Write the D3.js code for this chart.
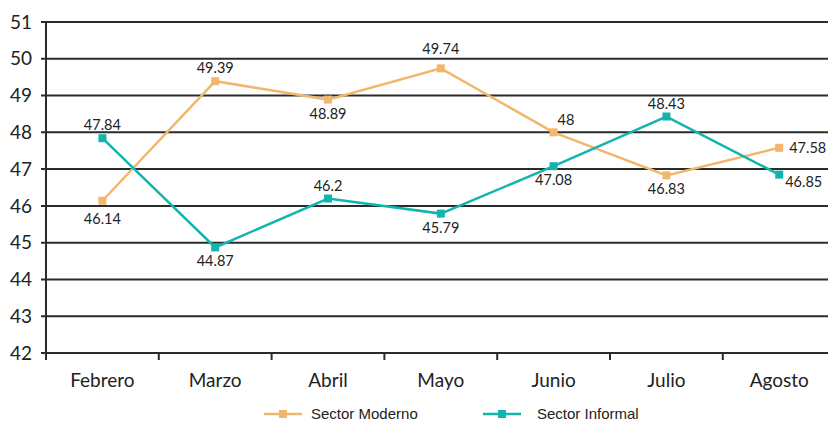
<!DOCTYPE html>
<html>
<head>
<meta charset="utf-8">
<script src="https://cdn.jsdelivr.net/npm/d3@7"></script>
<style>
  body { margin: 0; background: #fff; }
  svg { display: block; }
</style>
</head>
<body>
<div id="chart"></div>
<script>
// Chart data.
var months = ["Febrero", "Marzo", "Abril", "Mayo", "Junio", "Julio", "Agosto"];
var moderno = [46.14, 49.39, 48.89, 49.74, 48, 46.83, 47.58];
var informal = [47.84, 44.87, 46.2, 45.79, 47.08, 48.43, 46.85];
var modernoLabelSide = ["belowFar", "above", "below", "aboveFar", "rightAbove", "below", "right"];
var informalLabelSide = ["above", "below", "above", "below", "below", "above", "rightBelow"];
var yTicks = [42, 43, 44, 45, 46, 47, 48, 49, 50, 51];

// Configuration.
var width = 828,
    height = 423,
    marginLeft = 46,
    plotTop = 22,
    plotBottom = 353,
    orange = "#f2b76d",
    teal = "#12b5ad",
    axisFont = "Lato, 'Open Sans', sans-serif";

// Label offsets (dx, dy) from the point, by side.
var labelOffset = {
  above: [0, -8],
  aboveFar: [0, -14],
  below: [0, 19],
  belowFar: [0, 23],
  right: [10, 5],
  rightAbove: [4, -7],
  rightBelow: [6, 12]
};

var svg = d3.select("#chart").append("svg")
  .attr("width", width)
  .attr("height", height);

var x = d3.scaleBand()
  .domain(months)
  .range([marginLeft, marginLeft + 7 * 112.8]);

var y = d3.scaleLinear()
  .domain([42, 51])
  .range([plotBottom, plotTop]);

// Horizontal grid lines.
svg.append("g")
  .selectAll("line")
  .data(yTicks)
  .enter().append("line")
    .attr("x1", marginLeft - 5)
    .attr("x2", width)
    .attr("y1", function (d) { return y(d); })
    .attr("y2", function (d) { return y(d); })
    .attr("stroke", "#2b2b2b")
    .attr("stroke-width", 2);

// Y tick labels.
svg.append("g")
  .selectAll("text")
  .data(yTicks)
  .enter().append("text")
    .attr("x", 32)
    .attr("y", function (d) { return y(d); })
    .attr("dy", "0.35em")
    .attr("text-anchor", "end")
    .attr("font-family", axisFont)
    .attr("font-size", 19)
    .attr("fill", "#222")
    .text(function (d) { return d; });

// Y axis line.
svg.append("line")
  .attr("x1", marginLeft).attr("x2", marginLeft)
  .attr("y1", plotTop).attr("y2", plotBottom + 6)
  .attr("stroke", "#2b2b2b")
  .attr("stroke-width", 2);

// X axis ticks at band boundaries.
svg.append("g")
  .selectAll("line")
  .data(months)
  .enter().append("line")
    .attr("x1", function (d) { return x(d); })
    .attr("x2", function (d) { return x(d); })
    .attr("y1", plotBottom)
    .attr("y2", plotBottom + 7)
    .attr("stroke", "#2b2b2b")
    .attr("stroke-width", 2);

// X labels.
svg.append("g")
  .selectAll("text")
  .data(months)
  .enter().append("text")
    .attr("x", function (d) { return x(d) + x.bandwidth() / 2; })
    .attr("y", 387)
    .attr("text-anchor", "middle")
    .attr("font-family", axisFont)
    .attr("font-size", 19)
    .attr("fill", "#222")
    .text(function (d) { return d; });

var line = d3.line()
  .x(function (d, i) { return x(months[i]) + x.bandwidth() / 2; })
  .y(function (d) { return y(d); });

function drawSeries(values, sides, color) {
  var g = svg.append("g");
  g.append("path")
    .datum(values)
    .attr("d", line)
    .attr("fill", "none")
    .attr("stroke", color)
    .attr("stroke-width", 2.5);

  g.selectAll("rect")
    .data(values)
    .enter().append("rect")
      .attr("x", function (d, i) { return x(months[i]) + x.bandwidth() / 2 - 4; })
      .attr("y", function (d) { return y(d) - 4; })
      .attr("width", 8)
      .attr("height", 8)
      .attr("fill", color);

  g.selectAll("text")
    .data(values)
    .enter().append("text")
      .attr("x", function (d, i) {
        return x(months[i]) + x.bandwidth() / 2 + labelOffset[sides[i]][0];
      })
      .attr("y", function (d, i) {
        return y(d) + labelOffset[sides[i]][1];
      })
      .attr("text-anchor", function (d, i) {
        return sides[i].indexOf("right") === 0 ? "start" : "middle";
      })
      .attr("font-family", axisFont)
      .attr("font-size", 14.5)
      .attr("fill", "#222")
      .text(function (d) { return d; });
}

drawSeries(moderno, modernoLabelSide, orange);
drawSeries(informal, informalLabelSide, teal);

// Legend.
var legendItems = [
  { name: "Sector Moderno", color: orange, x: 264 },
  { name: "Sector Informal", color: teal, x: 483 }
];
var legend = svg.append("g")
  .selectAll("g")
  .data(legendItems)
  .enter().append("g")
    .attr("transform", function (d) { return "translate(" + d.x + ",414)"; });
legend.append("line")
  .attr("x1", 0).attr("x2", 38)
  .attr("stroke", function (d) { return d.color; })
  .attr("stroke-width", 2.5);
legend.append("rect")
  .attr("x", 15).attr("y", -4)
  .attr("width", 8).attr("height", 8)
  .attr("fill", function (d) { return d.color; });
legend.append("text")
  .attr("x", function (d, i) { return i === 0 ? 47 : 54; })
  .attr("dy", "0.35em")
  .attr("font-family", "'Liberation Sans', Arial, sans-serif")
  .attr("font-size", 15)
  .attr("fill", "#222")
  .text(function (d) { return d.name; });
</script>
</body>
</html>
